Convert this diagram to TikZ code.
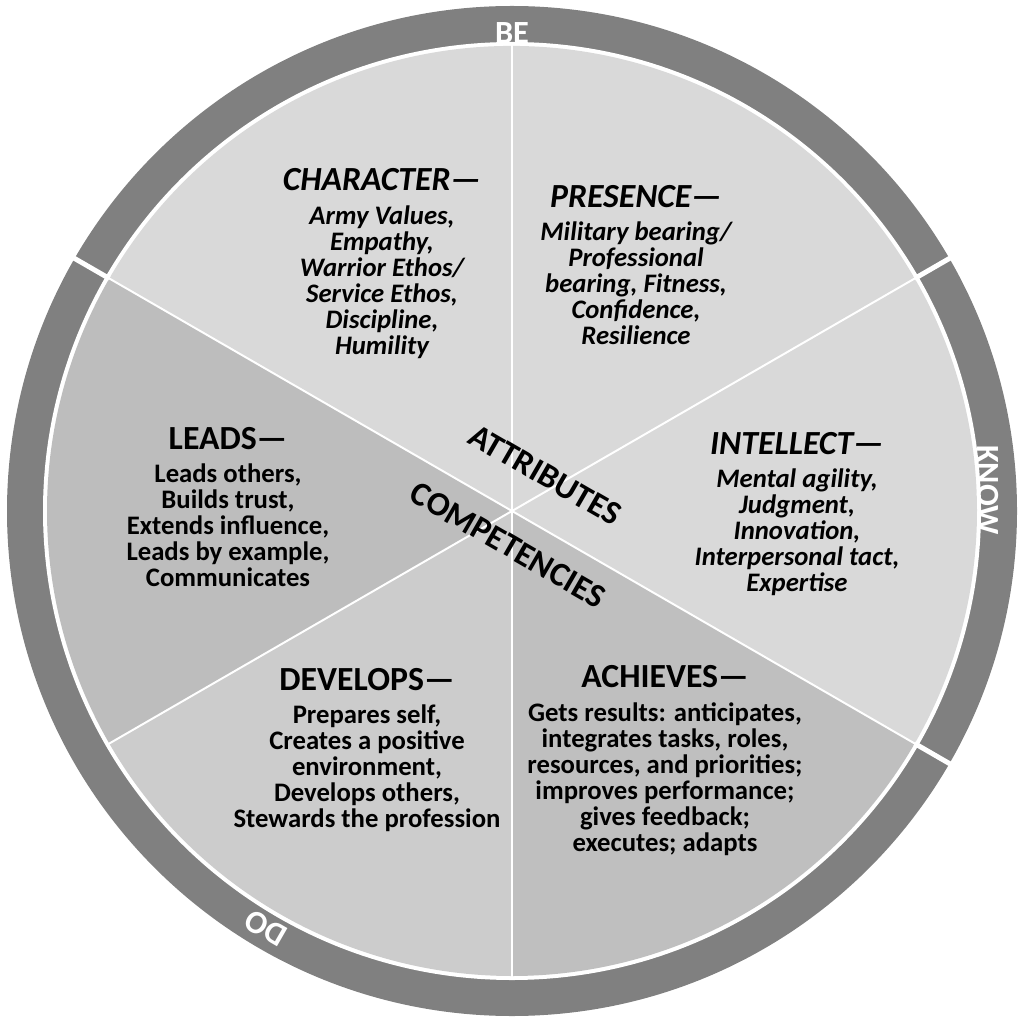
\documentclass[tikz,border=0pt]{standalone}
\usepackage{fontspec}
\usetikzlibrary{calc}
\setmainfont{Carlito}
\begin{document}
\begin{tikzpicture}[x=0.025cm,y=0.025cm,
  blk/.style={align=center,font=\fontsize{19}{18.6}\selectfont\bfseries,inner sep=0pt},
  blki/.style={blk,font=\fontsize{19}{18.6}\selectfont\bfseries\itshape},
  ringlbl/.style={text=white,font=\fontsize{23}{24}\selectfont\bfseries,inner sep=0pt},
  mid/.style={font=\fontsize{24}{26}\selectfont\bfseries,rotate=-30,inner sep=0pt}]
\useasboundingbox (0,0) rectangle (1024,1022);
\coordinate (c) at (512,511);
% ring
\fill[gray] (c) circle (505);
\fill[white] (c) circle (469);
% sectors
\fill[gray!30] (c) -- ++(30:465) arc (30:150:465) -- cycle;
\fill[gray!30] (c) -- ++(-30:465) arc (-30:30:465) -- cycle;
\fill[gray!52] (c) -- ++(150:465) arc (150:210:465) -- cycle;
\fill[gray!40] (c) -- ++(210:465) arc (210:270:465) -- cycle;
\fill[gray!50] (c) -- ++(270:465) arc (270:330:465) -- cycle;
% separators
\foreach \a in {30,90,150,210,270,330}
  \draw[white,line width=1.4pt] (c) -- ++(\a:467);
\foreach \a in {30,150,330}
  \draw[white,line width=3.5pt] ($(c)+(\a:465)$) -- ($(c)+(\a:508)$);
% ring labels
\node[ringlbl] (be) at (512,989) {BE};
\node[ringlbl,rotate=-90] (know) at (988,532) {KNOW};
\node[ringlbl,rotate=150] (do) at (266,94) {DO};
% centre
\node[mid] (attr) at (545,547) {ATTRIBUTES};
\node[mid] (comp) at (508,477) {COMPETENCIES};
% blocks
\node[blki] (char) at (382,758) {{\fontsize{24}{24}\selectfont CHARACTER\textemdash}\\[5pt]Army Values,\\Empathy,\\Warrior Ethos/\\Service Ethos,\\Discipline,\\Humility};
\node[blki] (pres) at (636,757) {{\fontsize{24}{24}\selectfont PRESENCE\textemdash}\\[5pt]Military bearing/\\Professional\\bearing, Fitness,\\Confidence,\\Resilience};
\node[blki] (intel) at (797,508) {{\fontsize{24}{24}\selectfont INTELLECT\textemdash}\\[5pt]Mental agility,\\Judgment,\\Innovation,\\Interpersonal tact,\\Expertise};
\node[blk] (leads) at (228,515) {{\fontsize{24}{24}\selectfont LEADS\textemdash}\\[5pt]Leads others,\\Builds trust,\\Extends influence,\\Leads by example,\\Communicates};
\node[blk] (dev) at (367,272) {{\fontsize{24}{24}\selectfont DEVELOPS\textemdash}\\[5pt]Prepares self,\\Creates a positive\\environment,\\Develops others,\\Stewards the profession};
\node[blk] (ach) at (665,261) {{\fontsize{24}{24}\selectfont ACHIEVES\textemdash}\\[5pt]Gets results: anticipates,\\integrates tasks, roles,\\resources, and priorities;\\improves performance;\\gives feedback;\\executes; adapts};
\end{tikzpicture}
\end{document}
